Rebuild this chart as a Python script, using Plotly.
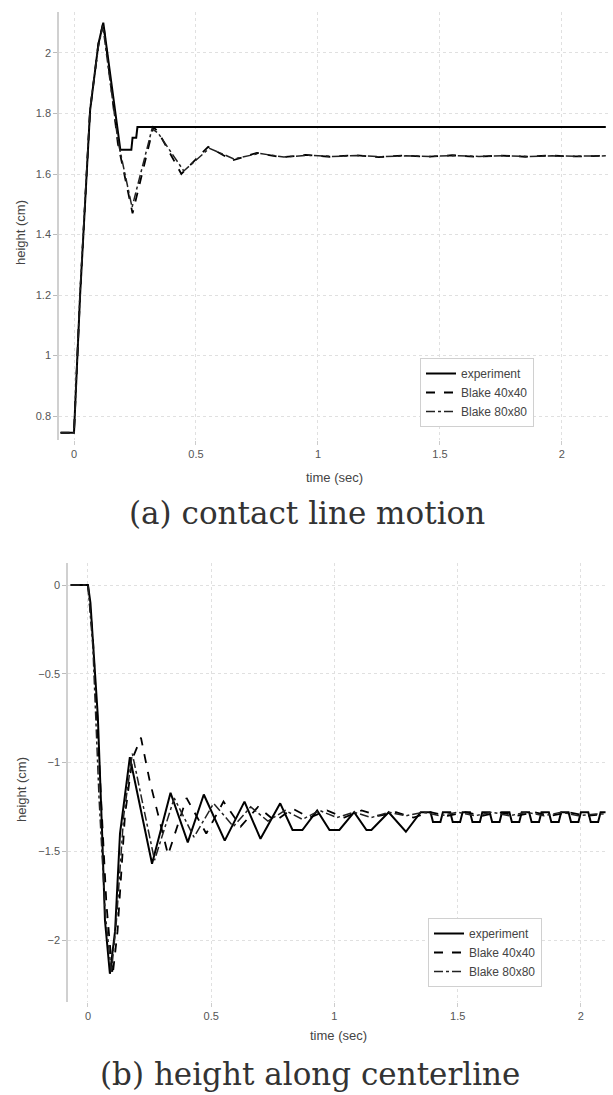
import plotly.graph_objects as go

# ---------------- data: (a) contact line motion ----------------
a_exp_t = [-0.055, 0.0, 0.025, 0.066, 0.10, 0.12, 0.19, 0.235, 0.24, 0.255, 0.26, 2.18]
a_exp_v = [0.745, 0.745, 1.20, 1.81, 2.03, 2.10, 1.68, 1.68, 1.72, 1.72, 1.755, 1.755]

a_b40_t = [-0.055, 0.0, 0.025, 0.066, 0.10, 0.12, 0.18, 0.24, 0.325, 0.345, 0.44, 0.55, 0.65,
           0.75, 0.85, 0.95, 1.05, 1.15, 1.25, 1.35, 1.45, 1.55, 1.65, 1.75, 1.85, 1.95, 2.05, 2.18]
a_b40_v = [0.745, 0.745, 1.20, 1.81, 2.03, 2.10, 1.70, 1.47, 1.755, 1.74, 1.60, 1.69, 1.645,
           1.67, 1.655, 1.663, 1.657, 1.662, 1.656, 1.661, 1.657, 1.662, 1.657, 1.661, 1.657, 1.661, 1.658, 1.66]

a_b80_t = [-0.055, 0.0, 0.025, 0.066, 0.10, 0.118, 0.18, 0.238, 0.32, 0.345, 0.45, 0.555, 0.655,
           0.76, 0.86, 0.96, 1.06, 1.16, 1.26, 1.36, 1.46, 1.56, 1.66, 1.76, 1.86, 1.96, 2.06, 2.18]
a_b80_v = [0.745, 0.745, 1.21, 1.82, 2.02, 2.09, 1.71, 1.49, 1.75, 1.735, 1.61, 1.685, 1.65,
           1.668, 1.656, 1.662, 1.658, 1.661, 1.657, 1.66, 1.658, 1.661, 1.658, 1.66, 1.658, 1.66, 1.659, 1.66]

# ---------------- data: (b) height along centerline ----------------
b_exp_t = [-0.07, 0.0, 0.01, 0.028, 0.04, 0.057, 0.069, 0.089, 0.11, 0.13, 0.17, 0.26, 0.335, 0.405,
           0.47, 0.555, 0.635, 0.70, 0.78, 0.83, 0.87, 0.93, 0.98, 1.02, 1.08, 1.13, 1.15, 1.22, 1.29,
           1.35, 1.39, 1.40, 1.43, 1.44, 1.47, 1.48, 1.51, 1.52, 1.55, 1.56, 1.59, 1.60, 1.63, 1.64,
           1.67, 1.68, 1.71, 1.72, 1.75, 1.76, 1.79, 1.80, 1.83, 1.84, 1.87, 1.88, 1.91, 1.92, 1.95,
           1.96, 1.99, 2.00, 2.03, 2.04, 2.07, 2.08, 2.10]
b_exp_v = [0.0, 0.0, -0.1, -0.48, -0.74, -1.38, -1.89, -2.19, -1.95, -1.40, -0.97, -1.57, -1.17, -1.45,
           -1.18, -1.44, -1.22, -1.43, -1.23, -1.38, -1.38, -1.27, -1.38, -1.38, -1.28, -1.38, -1.38, -1.28, -1.39,
           -1.28, -1.28, -1.335, -1.335, -1.28, -1.28, -1.335, -1.335, -1.28, -1.28, -1.335, -1.335, -1.28, -1.28, -1.335,
           -1.335, -1.28, -1.28, -1.335, -1.335, -1.28, -1.28, -1.335, -1.335, -1.28, -1.28, -1.335, -1.335, -1.28, -1.28,
           -1.335, -1.335, -1.28, -1.28, -1.335, -1.335, -1.28, -1.28]

b_b40_t = [-0.07, 0.0, 0.02, 0.05, 0.075, 0.10, 0.12, 0.15, 0.18, 0.215, 0.25, 0.325, 0.40, 0.48,
           0.55, 0.62, 0.69, 0.76, 0.83, 0.90, 0.97, 1.04, 1.11, 1.18, 1.25, 1.32, 1.39, 1.46, 1.53,
           1.60, 1.67, 1.74, 1.81, 1.88, 1.95, 2.02, 2.10]
b_b40_v = [0.0, 0.0, -0.3, -1.1, -1.8, -2.20, -1.95, -1.30, -0.98, -0.86, -1.10, -1.52, -1.20, -1.40,
           -1.22, -1.36, -1.25, -1.33, -1.26, -1.31, -1.27, -1.31, -1.27, -1.30, -1.28, -1.31, -1.28, -1.30, -1.28,
           -1.30, -1.28, -1.30, -1.28, -1.30, -1.28, -1.30, -1.29]

b_b80_t = [-0.07, 0.0, 0.02, 0.045, 0.07, 0.095, 0.115, 0.145, 0.18, 0.27, 0.35, 0.43, 0.51, 0.59,
           0.66, 0.73, 0.80, 0.87, 0.94, 1.01, 1.08, 1.15, 1.22, 1.29, 1.36, 1.43, 1.50, 1.57, 1.64,
           1.71, 1.78, 1.85, 1.92, 1.99, 2.06, 2.10]
b_b80_v = [0.0, 0.0, -0.35, -1.2, -1.85, -2.18, -1.90, -1.30, -0.95, -1.55, -1.20, -1.42, -1.23, -1.36,
           -1.25, -1.33, -1.27, -1.32, -1.27, -1.31, -1.28, -1.31, -1.28, -1.30, -1.28, -1.30, -1.28, -1.30, -1.28,
           -1.30, -1.28, -1.30, -1.28, -1.30, -1.29, -1.29]

series_names = ["experiment", "Blake 40x40", "Blake 80x80"]
x_ticks = [0, 0.5, 1, 1.5, 2]
x_ticktext = ["0", "0.5", "1", "1.5", "2"]
a_y_ticks = [0.8, 1, 1.2, 1.4, 1.6, 1.8, 2]
a_y_ticktext = ["0.8", "1", "1.2", "1.4", "1.6", "1.8", "2"]
b_y_ticks = [-2, -1.5, -1, -0.5, 0]
b_y_ticktext = ["\u22122", "\u22121.5", "\u22121", "\u22120.5", "0"]

captions = ["(a) contact line motion", "(b) height along centerline"]
x_title = "time (sec)"
y_title = "height (cm)"

W, H = 613, 1095
fig = go.Figure()

styles = [dict(color="black", width=2, dash="solid"),
          dict(color="black", width=1.8, dash="dash"),
          dict(color="#222", width=1.5, dash="dashdot")]

for name, t, v, st in zip(series_names, [a_exp_t, a_b40_t, a_b80_t], [a_exp_v, a_b40_v, a_b80_v], styles):
    fig.add_trace(go.Scatter(x=t, y=v, mode="lines", name=name, line=st,
                             xaxis="x", yaxis="y", legend="legend"))
for name, t, v, st in zip(series_names, [b_exp_t, b_b40_t, b_b80_t], [b_exp_v, b_b40_v, b_b80_v], styles):
    fig.add_trace(go.Scatter(x=t, y=v, mode="lines", name=name, line=st,
                             xaxis="x2", yaxis="y2", legend="legend2"))

tickfont = dict(family="Liberation Sans, Arial, sans-serif", size=11, color="#555")
grid = dict(showgrid=True, gridcolor="#e0e0e0", griddash="dot", gridwidth=1, zeroline=False)

def xax(domain, rng, anchor):
    return dict(domain=domain, range=rng, anchor=anchor, tickvals=x_ticks, ticktext=x_ticktext,
                ticks="outside", ticklen=4, tickcolor="#ccc", showline=False, tickfont=tickfont, **grid)

def yax(domain, rng, anchor, tv, tt):
    return dict(domain=domain, range=rng, anchor=anchor, tickvals=tv, ticktext=tt,
                ticks="outside", ticklen=4, tickcolor="#bbb", showline=True, linecolor="#d0d0d0",
                linewidth=1.5, tickfont=tickfont, **grid)

leg_font = dict(family="Liberation Sans, Arial, sans-serif", size=12, color="#444")
fig.update_layout(
    width=W, height=H, margin=dict(l=0, r=0, t=0, b=0),
    paper_bgcolor="white", plot_bgcolor="white",
    xaxis=xax([59 / W, 608 / W], [-0.0615, 2.189], "y"),
    yaxis=yax([(H - 440) / H, (H - 12) / H], [0.7207, 2.1355], "x", a_y_ticks, a_y_ticktext),
    xaxis2=xax([68 / W, 608 / W], [-0.081, 2.11], "y2"),
    yaxis2=yax([(H - 1002) / H, (H - 563) / H], [-2.349, 0.124], "x2", b_y_ticks, b_y_ticktext),
    legend=dict(x=420 / W, y=(H - 358) / H, xanchor="left", yanchor="top",
                bgcolor="white", bordercolor="#d0d0d0", borderwidth=1,
                font=leg_font, tracegroupgap=0, itemwidth=30, entrywidth=148),
    legend2=dict(x=428 / W, y=(H - 918) / H, xanchor="left", yanchor="top",
                 bgcolor="white", bordercolor="#d0d0d0", borderwidth=1,
                 font=leg_font, tracegroupgap=0, itemwidth=30, entrywidth=148),
    showlegend=True,
)

ann_font = dict(family="Liberation Sans, Arial, sans-serif", size=13, color="#444")
cap_font = dict(family="DejaVu Serif, serif", size=31, color="#333")
annotations = [
    dict(x=334 / W, y=(H - 477) / H, text=x_title, font=ann_font),
    dict(x=338 / W, y=(H - 1035) / H, text=x_title, font=ann_font),
    dict(x=21 / W, y=(H - 233) / H, text=y_title, font=ann_font, textangle=-90),
    dict(x=21 / W, y=(H - 790) / H, text=y_title, font=ann_font, textangle=-90),
    dict(x=307 / W, y=(H - 513) / H, text=captions[0], font=cap_font),
    dict(x=310 / W, y=(H - 1074) / H, text=captions[1], font=cap_font),
]
for a in annotations:
    a.update(xref="paper", yref="paper", showarrow=False, xanchor="center", yanchor="middle")
fig.update_layout(annotations=annotations)

fig.write_html("out.html")
